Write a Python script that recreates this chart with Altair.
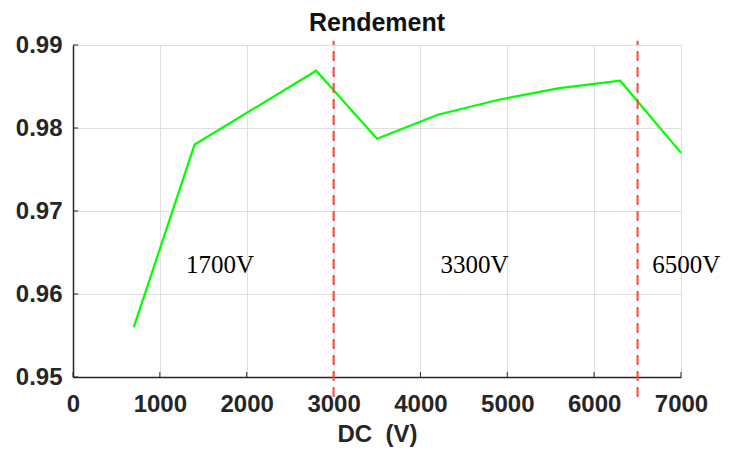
import altair as alt
import pandas as pd

dc_voltage = [700, 1400, 2800, 3500, 4200, 4900, 5600, 6300, 7000]
rendement = [0.956, 0.978, 0.9869, 0.9787, 0.9816, 0.9834, 0.9848, 0.9857, 0.9770]

split_x = [3000, 6500]
split_y_low = [0.9476, 0.9476]
split_y_high = [0.9905, 0.9905]

label_text = ["1700V", "3300V", "6500V"]
label_x = [1300, 4230, 6670]
label_y = [0.9635, 0.9635, 0.9635]

x_ticks = [0, 1000, 2000, 3000, 4000, 5000, 6000, 7000]
y_ticks = [0.95, 0.96, 0.97, 0.98, 0.99]

line_df = pd.DataFrame({"dc": dc_voltage, "r": rendement})
split_df = pd.DataFrame({"x": split_x, "y": split_y_low, "y2": split_y_high})
label_df = pd.DataFrame({"t": label_text, "x": label_x, "y": label_y})
xt_df = pd.DataFrame({"x": x_ticks, "y": [0.95] * len(x_ticks), "y2": [0.9506] * len(x_ticks)})
yt_df = pd.DataFrame({"y": y_ticks, "x": [0] * len(y_ticks), "x2": [60] * len(y_ticks)})

axis_color = "#262626"
x_scale = alt.Scale(domain=[0, 7000], nice=False, zero=False)
y_scale = alt.Scale(domain=[0.95, 0.99], nice=False, zero=False)

x_axis = alt.Axis(
    values=x_ticks,
    format="d",
    title="DC\u00a0\u00a0(V)",
    titleFont="Liberation Sans",
    titleFontSize=24,
    titleFontWeight="bold",
    titleColor=axis_color,
    titlePadding=6,
    labelFont="Liberation Sans",
    labelFontSize=24,
    labelFontWeight="bold",
    labelColor=axis_color,
    labelPadding=15,
    ticks=False,
    domainColor=axis_color,
    domainWidth=1.5,
    gridColor="#dedede",
    gridWidth=1,
    labelFlush=False,
)
y_axis = alt.Axis(
    values=y_ticks,
    format=".2f",
    title=None,
    labelFont="Liberation Sans",
    labelFontSize=24,
    labelFontWeight="bold",
    labelColor=axis_color,
    labelPadding=11,
    ticks=False,
    domainColor=axis_color,
    domainWidth=1.5,
    gridColor="#dedede",
    gridWidth=1,
    labelFlush=False,
)

line = alt.Chart(line_df).mark_line(color="#00ff00", strokeWidth=2.2).encode(
    x=alt.X("dc:Q", scale=x_scale, axis=x_axis),
    y=alt.Y("r:Q", scale=y_scale, axis=y_axis),
)

xticks_layer = alt.Chart(xt_df).mark_rule(color=axis_color, strokeWidth=1).encode(
    x=alt.X("x:Q", scale=x_scale), y=alt.Y("y:Q", scale=y_scale), y2="y2:Q"
)
yticks_layer = alt.Chart(yt_df).mark_rule(color=axis_color, strokeWidth=1).encode(
    y=alt.Y("y:Q", scale=y_scale), x=alt.X("x:Q", scale=x_scale), x2="x2:Q"
)

splits = alt.Chart(split_df).mark_rule(
    color="#ff4545", strokeWidth=2, strokeDash=[10, 6], clip=False
).encode(
    x=alt.X("x:Q", scale=x_scale),
    y=alt.Y("y:Q", scale=y_scale),
    y2="y2:Q",
)

labels = alt.Chart(label_df).mark_text(
    font="Liberation Serif", fontSize=25, align="left", baseline="middle", color="black"
).encode(
    x=alt.X("x:Q", scale=x_scale),
    y=alt.Y("y:Q", scale=y_scale),
    text="t:N",
)

chart = (
    alt.layer(line, xticks_layer, yticks_layer, splits, labels)
    .properties(
        width=608,
        height=332,
        title=alt.TitleParams(
            "Rendement",
            font="Liberation Sans",
            fontSize=25,
            fontWeight="bold",
            color="#111111",
            frame="group",
            offset=-3,
        ),
        autosize=alt.AutoSizeParams(type="none"),
        padding={"left": 65, "top": 37, "right": 41, "bottom": 70},
    )
    .configure_view(stroke=None)
    .configure(background="white")
)

chart.save("out.html", embed_options={"renderer": "svg", "actions": False})
